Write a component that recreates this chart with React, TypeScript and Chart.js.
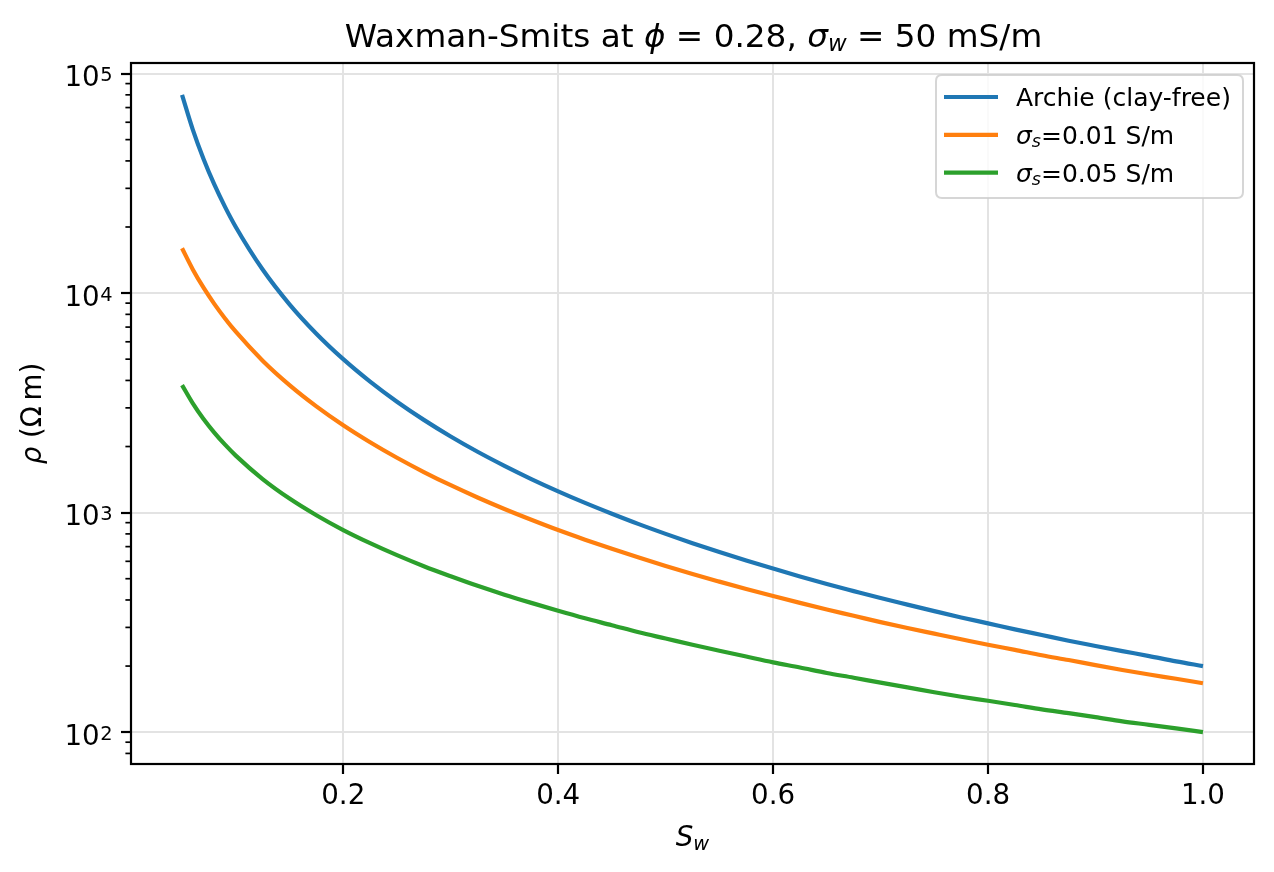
import React, { useEffect, useRef } from 'react';
import { Chart, registerables } from 'chart.js';

Chart.register(...registerables);

// ---- data ----
const sw = [
  0.05, 0.06, 0.07, 0.08, 0.09, 0.1,
  0.125, 0.15, 0.175, 0.2, 0.225, 0.25, 0.275, 0.3, 0.325, 0.35, 0.375, 0.4,
  0.425, 0.45, 0.475, 0.5, 0.525, 0.55, 0.575, 0.6, 0.625, 0.65, 0.675, 0.7,
  0.725, 0.75, 0.775, 0.8, 0.825, 0.85, 0.875, 0.9, 0.925, 0.95, 0.975, 1.0,
];
const rhoArchie = [
  80000, 55556, 40816, 31250, 24691, 20000,
  12800, 8889, 6531, 5000, 3951, 3200, 2645, 2222, 1893, 1633, 1422, 1250,
  1107, 988, 886, 800, 726, 661, 605, 556, 512, 473, 439, 408,
  381, 356, 333, 313, 294, 277, 261, 247, 234, 222, 210, 200,
];
const rhoSigma001 = [
  16000, 12821, 10582, 8929, 7663, 6667,
  4923, 3810, 3048, 2500, 2092, 1778, 1531, 1333, 1172, 1039, 928, 833,
  753, 684, 624, 571, 525, 485, 449, 417, 388, 362, 339, 317,
  298, 281, 265, 250, 237, 224, 213, 202, 192, 183, 175, 167,
];
const rhoSigma005 = [
  3810, 3145, 2670, 2315, 2039, 1818,
  1422, 1159, 973, 833, 726, 640, 570, 513, 464, 423, 388, 357,
  330, 307, 285, 267, 250, 235, 221, 208, 197, 186, 177, 168,
  160, 152, 145, 139, 133, 127, 122, 117, 112, 108, 104, 100,
];
const seriesLabels = ['Archie (clay-free)', '$σ_s$=0.01 S/m', '$σ_s$=0.05 S/m'];
const seriesColors = ['#1f77b4', '#ff7f0e', '#2ca02c'];
const xTicks = [0.2, 0.4, 0.6, 0.8, 1.0];
const yTicks = [100, 1000, 10000, 100000];
const titleText = 'Waxman-Smits at $ϕ = 0.28$, $σ_w = 50$ mS/m';
const xLabelText = '$S_w$';
const yLabelText = '$ρ$ (Ω\u2009m)';

const FONT = '"DejaVu Sans"';

type Run = { t: string; size: number; italic: boolean; dy: number };

const isLetter = (c: string) => /[A-Za-zα-ωϕ]/.test(c);

function parseMath(str: string, size: number): Run[] {
  const runs: Run[] = [];
  str.split('$').forEach((p, idx) => {
    if (idx % 2 === 0) {
      if (p) runs.push({ t: p, size, italic: false, dy: 0 });
      return;
    }
    for (let i = 0; i < p.length; i++) {
      const c = p[i];
      if (c === '_' && i + 1 < p.length) {
        const n = p[++i];
        runs.push({ t: n, size: size * 0.7, italic: isLetter(n), dy: size * 0.13 });
        continue;
      }
      runs.push({ t: c, size, italic: isLetter(c), dy: 0 });
    }
  });
  return runs;
}

function setFont(ctx: CanvasRenderingContext2D, size: number, italic: boolean) {
  ctx.font = `${italic ? 'italic ' : ''}${size}px ${FONT}`;
}

function runsWidth(ctx: CanvasRenderingContext2D, runs: Run[]) {
  let w = 0;
  for (const r of runs) {
    setFont(ctx, r.size, r.italic);
    w += ctx.measureText(r.t).width;
  }
  return w;
}

function drawRuns(
  ctx: CanvasRenderingContext2D,
  runs: Run[],
  x: number,
  y: number,
  align: 'left' | 'center' | 'right'
) {
  const w = runsWidth(ctx, runs);
  let cx = align === 'left' ? x : align === 'center' ? x - w / 2 : x - w;
  ctx.textAlign = 'left';
  ctx.textBaseline = 'alphabetic';
  for (const r of runs) {
    setFont(ctx, r.size, r.italic);
    ctx.fillText(r.t, cx, y + r.dy);
    cx += ctx.measureText(r.t).width;
  }
}

const decorPlugin = {
  id: 'decor',
  afterDraw(chart: any) {
    const { ctx, chartArea: ca, scales } = chart;
    const ys = scales.y;
    ctx.save();

    // spines
    ctx.strokeStyle = '#000';
    ctx.lineWidth = 2.2;
    ctx.strokeRect(ca.left, ca.top, ca.right - ca.left, ca.bottom - ca.top);

    // minor y ticks
    ctx.lineWidth = 1.7;
    for (let d = 1; d <= 5; d++) {
      for (let k = 2; k <= 9; k++) {
        const v = k * Math.pow(10, d);
        if (v < ys.min || v > ys.max) continue;
        const py = ys.getPixelForValue(v);
        ctx.beginPath();
        ctx.moveTo(ca.left - 5.6, py);
        ctx.lineTo(ca.left, py);
        ctx.stroke();
      }
    }

    // y tick labels 10^n
    ctx.fillStyle = '#000';
    const tickSize = 27.7;
    const supSize = 19.4;
    for (const v of yTicks) {
      const py = ys.getPixelForValue(v);
      const exp = String(Math.round(Math.log10(v)));
      const R = ca.left - 18.5;
      setFont(ctx, supSize, false);
      const sw2 = ctx.measureText(exp).width;
      ctx.textAlign = 'left';
      ctx.textBaseline = 'alphabetic';
      ctx.fillText(exp, R - sw2, py + 7.7);
      setFont(ctx, tickSize, false);
      ctx.textAlign = 'right';
      ctx.fillText('10', R - sw2 - 0.5, py + 12.7);
    }

    // title
    const cxMid = (ca.left + ca.right) / 2;
    drawRuns(ctx, parseMath(titleText, 32.7), cxMid + 1, 46.7, 'center');

    // x label
    drawRuns(ctx, parseMath(xLabelText, 27.7), cxMid, 846, 'center');

    // y label
    ctx.save();
    ctx.translate(41, (ca.top + ca.bottom) / 2);
    ctx.rotate(-Math.PI / 2);
    drawRuns(ctx, parseMath(yLabelText, 27.7), 0, 0, 'center');
    ctx.restore();

    // legend
    const lx0 = 936, ly0 = 75, lx1 = 1243, ly1 = 198, rad = 6;
    ctx.beginPath();
    ctx.moveTo(lx0 + rad, ly0);
    ctx.lineTo(lx1 - rad, ly0);
    ctx.quadraticCurveTo(lx1, ly0, lx1, ly0 + rad);
    ctx.lineTo(lx1, ly1 - rad);
    ctx.quadraticCurveTo(lx1, ly1, lx1 - rad, ly1);
    ctx.lineTo(lx0 + rad, ly1);
    ctx.quadraticCurveTo(lx0, ly1, lx0, ly1 - rad);
    ctx.lineTo(lx0, ly0 + rad);
    ctx.quadraticCurveTo(lx0, ly0, lx0 + rad, ly0);
    ctx.closePath();
    ctx.fillStyle = 'rgba(255,255,255,0.8)';
    ctx.fill();
    ctx.strokeStyle = 'rgba(204,204,204,0.8)';
    ctx.lineWidth = 2;
    ctx.stroke();

    seriesLabels.forEach((lab, i) => {
      const cy = 97 + i * 37.8;
      ctx.strokeStyle = seriesColors[i];
      ctx.lineWidth = 4.2;
      ctx.beginPath();
      ctx.moveTo(944, cy);
      ctx.lineTo(998, cy);
      ctx.stroke();
      ctx.fillStyle = '#000';
      drawRuns(ctx, parseMath(lab, 25), 1016, cy + 9, 'left');
    });

    ctx.restore();
  },
};

export default function App() {
  const canvasRef = useRef<HTMLCanvasElement | null>(null);

  useEffect(() => {
    if (!canvasRef.current) return;
    const series = [rhoArchie, rhoSigma001, rhoSigma005];
    const chart = new Chart(canvasRef.current, {
      type: 'line',
      data: {
        datasets: series.map((arr, i) => ({
          label: seriesLabels[i],
          data: sw.map((x, j) => ({ x, y: arr[j] })),
          borderColor: seriesColors[i],
          backgroundColor: seriesColors[i],
          borderWidth: 4.2,
          pointRadius: 0,
          fill: false,
          cubicInterpolationMode: 'monotone' as const,
        })),
      },
      options: {
        animation: false,
        responsive: false,
        devicePixelRatio: 1,
        events: [],
        layout: { padding: { top: 63, right: 20, left: 0, bottom: 0 } },
        plugins: {
          legend: { display: false },
          title: { display: false },
          tooltip: { enabled: false },
        },
        scales: {
          x: {
            type: 'linear',
            min: 0.0025,
            max: 1.0475,
            afterBuildTicks: (scale: any) => {
              scale.ticks = xTicks.map((v) => ({ value: v }));
            },
            afterFit: (scale: any) => {
              scale.height = 108;
            },
            border: { display: false },
            grid: {
              color: '#e3e3e3',
              lineWidth: 2,
              drawTicks: true,
              tickLength: 10,
              tickWidth: 2.2,
              tickColor: '#000',
            },
            ticks: {
              autoSkip: false,
              maxRotation: 0,
              padding: 6,
              color: '#000',
              font: { family: 'DejaVu Sans', size: 27.7 },
              callback: (v: any) => Number(v).toFixed(1),
            },
          },
          y: {
            type: 'logarithmic',
            min: 71.6,
            max: 111700,
            afterBuildTicks: (scale: any) => {
              scale.ticks = yTicks.map((v) => ({ value: v }));
            },
            afterFit: (scale: any) => {
              scale.width = 131;
            },
            border: { display: false },
            grid: {
              color: '#e3e3e3',
              lineWidth: 2,
              drawTicks: true,
              tickLength: 10,
              tickWidth: 2.2,
              tickColor: '#000',
            },
            ticks: {
              autoSkip: false,
              color: '#000',
              font: { family: 'DejaVu Sans', size: 27.7 },
              callback: () => '',
            },
          },
        },
      },
      plugins: [decorPlugin],
    });
    return () => chart.destroy();
  }, []);

  return (
    <div style={{ position: 'absolute', left: 0, top: 0, width: 1274, height: 872, background: '#fff' }}>
      <canvas ref={canvasRef} width={1274} height={872} style={{ display: 'block', width: 1274, height: 872 }} />
    </div>
  );
}
